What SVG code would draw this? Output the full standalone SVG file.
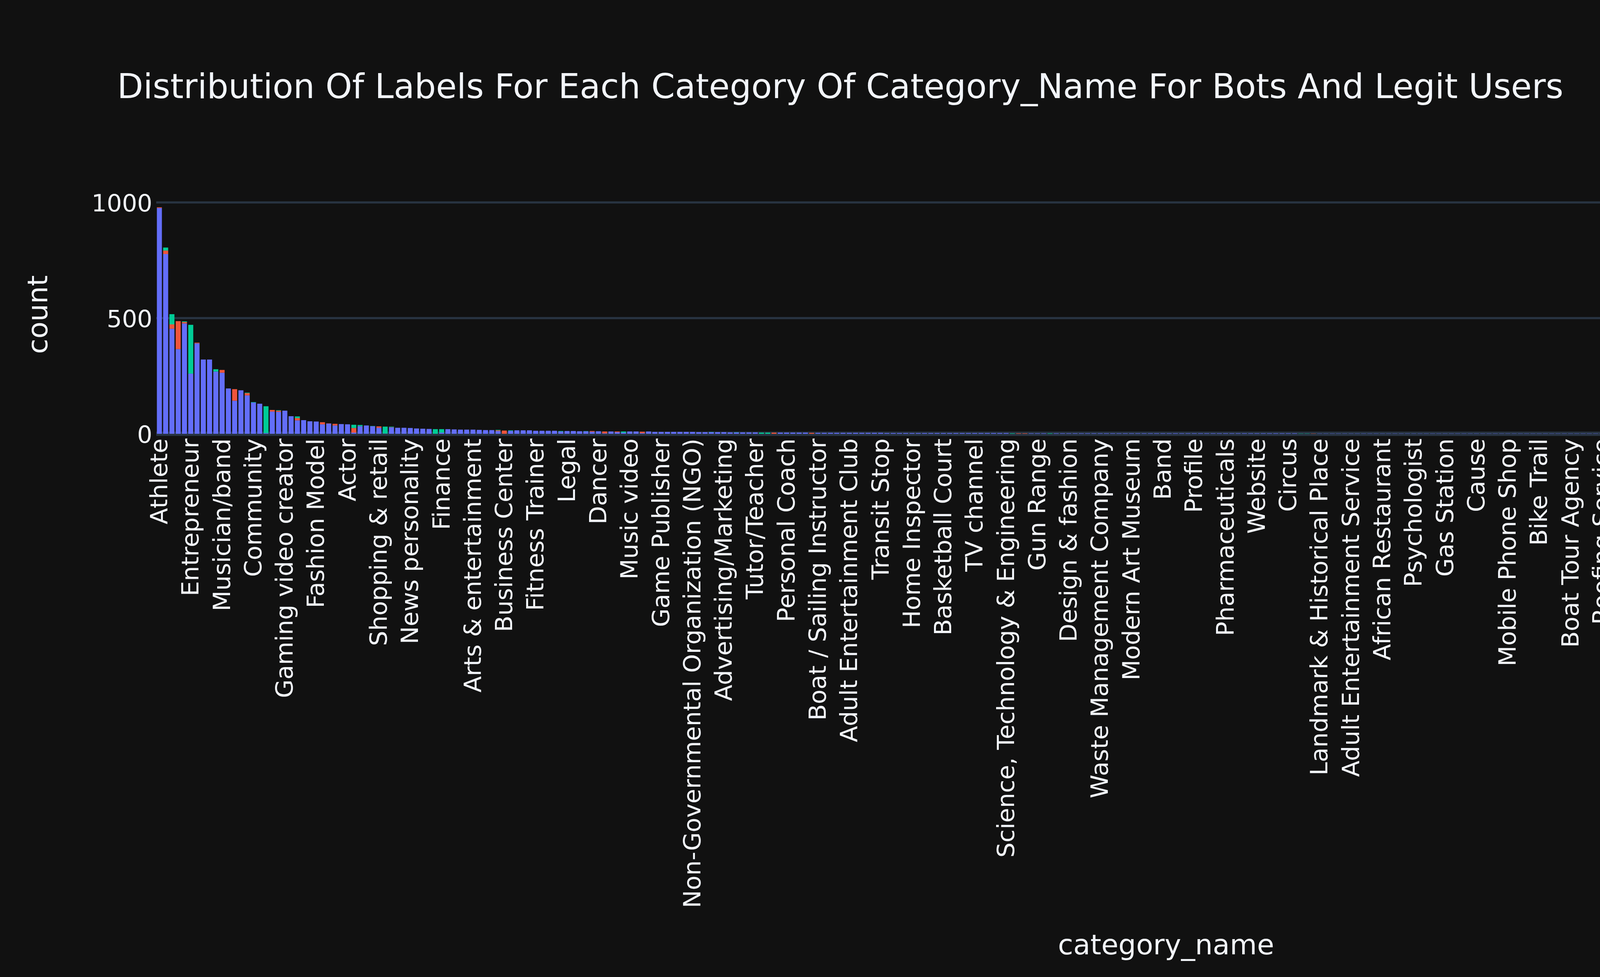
<svg xmlns="http://www.w3.org/2000/svg" width="6000" height="2500" viewBox="0 0 6000 2500">
<style>
text{font-family:"DejaVu Sans","Verdana","Liberation Sans",sans-serif;fill:#f2f5fa}
.tick{font-size:61.2px}
.a{fill:#636efa}.r{fill:#ef553b}.g{fill:#00cc96}
.grid{stroke:#283442;stroke-width:5.45}
</style>
<rect x="0" y="0" width="6000" height="2500" fill="#111111"/>
<g id="title"><text x="300" y="251" font-size="86.7">Distribution Of Labels For Each Category Of Category_Name For Bots And Legit Users</text></g>
<g id="gridlines">
<line class="grid" x1="400" y1="518" x2="5570" y2="518"/>
<line class="grid" x1="400" y1="814" x2="5570" y2="814"/>
<line x1="400" y1="1110" x2="5570" y2="1110" stroke="#283442" stroke-width="10.9"/>
</g>
<g id="yticks" class="tick" text-anchor="end">
<text x="390" y="540.5">1000</text>
<text x="390" y="836.5">500</text>
<text x="390" y="1132.5">0</text>
</g>
<g id="bars" transform="translate(401.606,1110) scale(16.056,-0.592)">
<g id="label0" class="a">
<rect x="0" width=".8" height="976"/><rect x="1" width=".8" height="777"/><rect x="2" width=".8" height="454"/><rect x="3" width=".8" height="366"/><rect x="4" width=".8" height="477"/><rect x="5" width=".8" height="260"/><rect x="6" width=".8" height="391"/><rect x="7" width=".8" height="321"/><rect x="8" width=".8" height="321"/><rect x="9" width=".8" height="269"/>
<rect x="10" width=".8" height="264"/><rect x="11" width=".8" height="196"/><rect x="12" width=".8" height="143"/><rect x="13" width=".8" height="188"/><rect x="14" width=".8" height="166"/><rect x="15" width=".8" height="135"/><rect x="16" width=".8" height="130"/><rect x="17" width=".8" height="3"/><rect x="18" width=".8" height="96"/><rect x="19" width=".8" height="95"/>
<rect x="20" width=".8" height="100"/><rect x="21" width=".8" height="76"/><rect x="22" width=".8" height="58"/><rect x="23" width=".8" height="59"/><rect x="24" width=".8" height="54"/><rect x="25" width=".8" height="53"/><rect x="26" width=".8" height="41"/><rect x="27" width=".8" height="44"/><rect x="28" width=".8" height="36"/><rect x="29" width=".8" height="42"/>
<rect x="30" width=".8" height="41"/><rect x="31" width=".8" height="5"/><rect x="32" width=".8" height="33"/><rect x="33" width=".8" height="36"/><rect x="34" width=".8" height="33"/><rect x="35" width=".8" height="26"/><rect x="36" width=".8" height="1"/><rect x="37" width=".8" height="28"/><rect x="38" width=".8" height="26"/><rect x="39" width=".8" height="26"/>
<rect x="40" width=".8" height="25"/><rect x="41" width=".8" height="23"/><rect x="42" width=".8" height="22"/><rect x="43" width=".8" height="21"/><rect x="45" width=".8" height="5"/><rect x="46" width=".8" height="20"/><rect x="47" width=".8" height="19"/><rect x="48" width=".8" height="18"/><rect x="49" width=".8" height="18"/>
<rect x="50" width=".8" height="18"/><rect x="51" width=".8" height="17"/><rect x="52" width=".8" height="16"/><rect x="53" width=".8" height="16"/><rect x="54" width=".8" height="12"/><rect x="56" width=".8" height="13"/><rect x="57" width=".8" height="15"/><rect x="58" width=".8" height="15"/><rect x="59" width=".8" height="15"/>
<rect x="60" width=".8" height="13"/><rect x="61" width=".8" height="13"/><rect x="62" width=".8" height="13"/><rect x="63" width=".8" height="13"/><rect x="64" width=".8" height="10"/><rect x="65" width=".8" height="12"/><rect x="66" width=".8" height="12"/><rect x="67" width=".8" height="11"/><rect x="68" width=".8" height="11"/><rect x="69" width=".8" height="9"/>
<rect x="70" width=".8" height="11"/><rect x="71" width=".8" height="2"/><rect x="72" width=".8" height="10"/><rect x="73" width=".8" height="7"/><rect x="74" width=".8" height="5"/><rect x="75" width=".8" height="10"/><rect x="76" width=".8" height="10"/><rect x="77" width=".8" height="3"/><rect x="78" width=".8" height="10"/><rect x="79" width=".8" height="8"/>
<rect x="80" width=".8" height="8"/><rect x="81" width=".8" height="8"/><rect x="82" width=".8" height="8"/><rect x="83" width=".8" height="8"/><rect x="84" width=".8" height="8"/><rect x="85" width=".8" height="8"/><rect x="86" width=".8" height="7"/><rect x="87" width=".8" height="7"/><rect x="88" width=".8" height="7"/><rect x="89" width=".8" height="7"/>
<rect x="90" width=".8" height="7"/><rect x="91" width=".8" height="6"/><rect x="92" width=".8" height="6"/><rect x="93" width=".8" height="6"/><rect x="94" width=".8" height="6"/><rect x="95" width=".8" height="6"/><rect x="99" width=".8" height="5"/>
<rect x="100" width=".8" height="5"/><rect x="101" width=".8" height="5"/><rect x="102" width=".8" height="5"/><rect x="103" width=".8" height="5"/><rect x="105" width=".8" height="4"/><rect x="106" width=".8" height="4"/><rect x="107" width=".8" height="4"/><rect x="108" width=".8" height="4"/><rect x="109" width=".8" height="4"/>
<rect x="110" width=".8" height="4"/><rect x="111" width=".8" height="4"/><rect x="112" width=".8" height="4"/><rect x="113" width=".8" height="4"/><rect x="114" width=".8" height="4"/><rect x="115" width=".8" height="4"/><rect x="116" width=".8" height="3"/><rect x="117" width=".8" height="3"/><rect x="118" width=".8" height="3"/><rect x="119" width=".8" height="3"/>
<rect x="120" width=".8" height="3"/><rect x="121" width=".8" height="3"/><rect x="122" width=".8" height="3"/><rect x="123" width=".8" height="3"/><rect x="124" width=".8" height="3"/><rect x="125" width=".8" height="3"/><rect x="126" width=".8" height="3"/><rect x="127" width=".8" height="3"/><rect x="128" width=".8" height="3"/><rect x="129" width=".8" height="3"/>
<rect x="130" width=".8" height="3"/><rect x="131" width=".8" height="3"/><rect x="132" width=".8" height="3"/><rect x="133" width=".8" height="3"/><rect x="134" width=".8" height="3"/><rect x="135" width=".8" height="3"/><rect x="139" width=".8" height="2"/>
<rect x="140" width=".8" height="2"/><rect x="141" width=".8" height="2"/><rect x="143" width=".8" height="2"/><rect x="144" width=".8" height="2"/><rect x="145" width=".8" height="2"/><rect x="146" width=".8" height="2"/><rect x="147" width=".8" height="2"/><rect x="148" width=".8" height="2"/><rect x="149" width=".8" height="2"/>
<rect x="150" width=".8" height="2"/><rect x="151" width=".8" height="2"/><rect x="152" width=".8" height="2"/><rect x="153" width=".8" height="2"/><rect x="154" width=".8" height="2"/><rect x="155" width=".8" height="2"/><rect x="156" width=".8" height="2"/><rect x="157" width=".8" height="2"/><rect x="158" width=".8" height="2"/><rect x="159" width=".8" height="2"/>
<rect x="160" width=".8" height="2"/><rect x="161" width=".8" height="2"/><rect x="162" width=".8" height="2"/><rect x="163" width=".8" height="2"/><rect x="164" width=".8" height="2"/><rect x="165" width=".8" height="2"/><rect x="166" width=".8" height="2"/><rect x="167" width=".8" height="2"/><rect x="168" width=".8" height="2"/><rect x="169" width=".8" height="2"/>
<rect x="170" width=".8" height="2"/><rect x="171" width=".8" height="2"/><rect x="172" width=".8" height="2"/><rect x="173" width=".8" height="2"/><rect x="174" width=".8" height="2"/><rect x="175" width=".8" height="2"/><rect x="176" width=".8" height="2"/><rect x="177" width=".8" height="2"/><rect x="178" width=".8" height="2"/><rect x="179" width=".8" height="2"/>
<rect x="180" width=".8" height="2"/><rect x="181" width=".8" height="2"/><rect x="185" width=".8" height="1"/><rect x="186" width=".8" height="1"/><rect x="187" width=".8" height="1"/><rect x="188" width=".8" height="1"/><rect x="189" width=".8" height="1"/>
<rect x="190" width=".8" height="1"/><rect x="191" width=".8" height="1"/><rect x="192" width=".8" height="1"/><rect x="193" width=".8" height="1"/><rect x="194" width=".8" height="1"/><rect x="195" width=".8" height="1"/><rect x="196" width=".8" height="1"/><rect x="197" width=".8" height="1"/><rect x="198" width=".8" height="1"/><rect x="199" width=".8" height="1"/>
<rect x="200" width=".8" height="1"/><rect x="201" width=".8" height="1"/><rect x="202" width=".8" height="1"/><rect x="203" width=".8" height="1"/><rect x="204" width=".8" height="1"/><rect x="205" width=".8" height="1"/><rect x="206" width=".8" height="1"/><rect x="207" width=".8" height="1"/><rect x="208" width=".8" height="1"/><rect x="209" width=".8" height="1"/>
<rect x="210" width=".8" height="1"/><rect x="211" width=".8" height="1"/><rect x="212" width=".8" height="1"/><rect x="213" width=".8" height="1"/><rect x="214" width=".8" height="1"/><rect x="215" width=".8" height="1"/><rect x="216" width=".8" height="1"/><rect x="217" width=".8" height="1"/><rect x="218" width=".8" height="1"/><rect x="219" width=".8" height="1"/>
<rect x="220" width=".8" height="1"/><rect x="221" width=".8" height="1"/><rect x="222" width=".8" height="1"/><rect x="223" width=".8" height="1"/><rect x="224" width=".8" height="1"/><rect x="225" width=".8" height="1"/><rect x="226" width=".8" height="1"/><rect x="227" width=".8" height="1"/><rect x="228" width=".8" height="1"/><rect x="229" width=".8" height="1"/>
<rect x="230" width=".8" height="1"/><rect x="231" width=".8" height="1"/><rect x="232" width=".8" height="1"/><rect x="233" width=".8" height="1"/><rect x="234" width=".8" height="1"/><rect x="235" width=".8" height="1"/><rect x="236" width=".8" height="1"/><rect x="237" width=".8" height="1"/><rect x="238" width=".8" height="1"/><rect x="239" width=".8" height="1"/>
<rect x="240" width=".8" height="1"/><rect x="241" width=".8" height="1"/><rect x="242" width=".8" height="1"/><rect x="243" width=".8" height="1"/><rect x="244" width=".8" height="1"/><rect x="245" width=".8" height="1"/><rect x="246" width=".8" height="1"/><rect x="247" width=".8" height="1"/><rect x="248" width=".8" height="1"/><rect x="249" width=".8" height="1"/>
<rect x="250" width=".8" height="1"/><rect x="251" width=".8" height="1"/><rect x="252" width=".8" height="1"/><rect x="253" width=".8" height="1"/><rect x="254" width=".8" height="1"/><rect x="255" width=".8" height="1"/><rect x="256" width=".8" height="1"/><rect x="257" width=".8" height="1"/><rect x="258" width=".8" height="1"/><rect x="259" width=".8" height="1"/>
<rect x="260" width=".8" height="1"/><rect x="261" width=".8" height="1"/><rect x="262" width=".8" height="1"/><rect x="263" width=".8" height="1"/><rect x="264" width=".8" height="1"/><rect x="265" width=".8" height="1"/><rect x="266" width=".8" height="1"/><rect x="267" width=".8" height="1"/><rect x="268" width=".8" height="1"/><rect x="269" width=".8" height="1"/>
<rect x="270" width=".8" height="1"/><rect x="271" width=".8" height="1"/><rect x="272" width=".8" height="1"/><rect x="273" width=".8" height="1"/><rect x="274" width=".8" height="1"/><rect x="275" width=".8" height="1"/><rect x="276" width=".8" height="1"/><rect x="277" width=".8" height="1"/><rect x="278" width=".8" height="1"/><rect x="279" width=".8" height="1"/>
<rect x="280" width=".8" height="1"/><rect x="281" width=".8" height="1"/><rect x="282" width=".8" height="1"/><rect x="283" width=".8" height="1"/><rect x="284" width=".8" height="1"/><rect x="285" width=".8" height="1"/><rect x="286" width=".8" height="1"/><rect x="287" width=".8" height="1"/><rect x="288" width=".8" height="1"/><rect x="289" width=".8" height="1"/>
<rect x="290" width=".8" height="1"/><rect x="291" width=".8" height="1"/><rect x="292" width=".8" height="1"/><rect x="293" width=".8" height="1"/><rect x="294" width=".8" height="1"/><rect x="295" width=".8" height="1"/><rect x="296" width=".8" height="1"/><rect x="297" width=".8" height="1"/><rect x="298" width=".8" height="1"/><rect x="299" width=".8" height="1"/>
<rect x="300" width=".8" height="1"/><rect x="301" width=".8" height="1"/><rect x="302" width=".8" height="1"/><rect x="303" width=".8" height="1"/><rect x="304" width=".8" height="1"/><rect x="305" width=".8" height="1"/><rect x="306" width=".8" height="1"/><rect x="307" width=".8" height="1"/><rect x="308" width=".8" height="1"/><rect x="309" width=".8" height="1"/>
<rect x="310" width=".8" height="1"/><rect x="311" width=".8" height="1"/><rect x="312" width=".8" height="1"/><rect x="313" width=".8" height="1"/><rect x="314" width=".8" height="1"/><rect x="315" width=".8" height="1"/><rect x="316" width=".8" height="1"/><rect x="317" width=".8" height="1"/><rect x="318" width=".8" height="1"/><rect x="319" width=".8" height="1"/>
<rect x="320" width=".8" height="1"/><rect x="321" width=".8" height="1"/>
</g>
<g id="label1" class="r">
<rect x="0" y="976" width=".8" height="3"/><rect x="1" y="777" width=".8" height="15"/><rect x="2" y="454" width=".8" height="19"/><rect x="3" y="366" width=".8" height="121"/><rect x="4" y="477" width=".8" height="6"/><rect x="6" y="391" width=".8" height="3"/><rect x="10" y="264" width=".8" height="12"/><rect x="12" y="143" width=".8" height="50"/><rect x="14" y="166" width=".8" height="10"/><rect x="18" y="96" width=".8" height="7"/>
<rect x="19" y="95" width=".8" height="5"/><rect x="22" y="58" width=".8" height="10"/><rect x="26" y="41" width=".8" height="9"/><rect x="27" y="44" width=".8" height="1"/><rect x="28" y="36" width=".8" height="7"/><rect x="31" y="5" width=".8" height="20"/><rect x="35" y="26" width=".8" height="6"/><rect x="37" y="28" width=".8" height="1"/><rect x="54" y="12" width=".8" height="3"/><rect x="55" y="0" width=".8" height="14"/>
<rect x="69" y="9" width=".8" height="3"/><rect x="71" y="2" width=".8" height="8"/><rect x="73" y="7" width=".8" height="3"/><rect x="77" y="3" width=".8" height="6"/><rect x="98" y="0" width=".8" height="5"/><rect x="104" y="0" width=".8" height="4"/><rect x="137" y="0" width=".8" height="2"/><rect x="138" y="0" width=".8" height="2"/><rect x="184" y="0" width=".8" height="1"/>
</g>
<g id="label3" class="g">
<rect x="1" y="792" width=".8" height="13"/><rect x="2" y="473" width=".8" height="44"/><rect x="4" y="483" width=".8" height="3"/><rect x="5" y="260" width=".8" height="211"/><rect x="9" y="269" width=".8" height="10"/><rect x="14" y="176" width=".8" height="2"/><rect x="15" y="135" width=".8" height="2"/><rect x="17" y="3" width=".8" height="116"/><rect x="19" y="100" width=".8" height="2"/><rect x="22" y="68" width=".8" height="7"/>
<rect x="31" y="25" width=".8" height="14"/><rect x="32" y="33" width=".8" height="5"/><rect x="34" y="33" width=".8" height="1"/><rect x="36" y="1" width=".8" height="30"/><rect x="37" y="29" width=".8" height="2"/><rect x="44" y="0" width=".8" height="20"/><rect x="45" y="5" width=".8" height="15"/><rect x="54" y="15" width=".8" height="2"/><rect x="56" y="13" width=".8" height="2"/><rect x="64" y="10" width=".8" height="2"/>
<rect x="68" y="11" width=".8" height="1"/><rect x="74" y="5" width=".8" height="5"/><rect x="88" y="7" width=".8" height="1"/><rect x="92" y="6" width=".8" height="1"/><rect x="96" y="0" width=".8" height="5"/><rect x="97" y="0" width=".8" height="5"/><rect x="136" y="0" width=".8" height="2"/><rect x="142" y="0" width=".8" height="2"/><rect x="182" y="0" width=".8" height="1"/><rect x="183" y="0" width=".8" height="1"/>
</g>
</g>
<g id="xticks" class="tick" text-anchor="end" transform="translate(0,1122) rotate(-90)">
<text x="0" y="428.0">Athlete</text>
<text x="0" y="508.3">Entrepreneur</text>
<text x="0" y="588.6">Musician/band</text>
<text x="0" y="668.9">Community</text>
<text x="0" y="749.2">Gaming video creator</text>
<text x="0" y="829.4">Fashion Model</text>
<text x="0" y="909.7">Actor</text>
<text x="0" y="990.0">Shopping &amp; retail</text>
<text x="0" y="1070.3">News personality</text>
<text x="0" y="1150.6">Finance</text>
<text x="0" y="1230.8">Arts &amp; entertainment</text>
<text x="0" y="1311.1">Business Center</text>
<text x="0" y="1391.4">Fitness Trainer</text>
<text x="0" y="1471.7">Legal</text>
<text x="0" y="1552.0">Dancer</text>
<text x="0" y="1632.2">Music video</text>
<text x="0" y="1712.5">Game Publisher</text>
<text x="0" y="1792.8">Non-Governmental Organization (NGO)</text>
<text x="0" y="1873.1">Advertising/Marketing</text>
<text x="0" y="1953.3">Tutor/Teacher</text>
<text x="0" y="2033.6">Personal Coach</text>
<text x="0" y="2113.9">Boat / Sailing Instructor</text>
<text x="0" y="2194.2">Adult Entertainment Club</text>
<text x="0" y="2274.5">Transit Stop</text>
<text x="0" y="2354.7">Home Inspector</text>
<text x="0" y="2435.0">Basketball Court</text>
<text x="0" y="2515.3">TV channel</text>
<text x="0" y="2595.6">Science, Technology &amp; Engineering</text>
<text x="0" y="2675.9">Gun Range</text>
<text x="0" y="2756.1">Design &amp; fashion</text>
<text x="0" y="2836.4">Waste Management Company</text>
<text x="0" y="2916.7">Modern Art Museum</text>
<text x="0" y="2997.0">Band</text>
<text x="0" y="3077.3">Profile</text>
<text x="0" y="3157.5">Pharmaceuticals</text>
<text x="0" y="3237.8">Website</text>
<text x="0" y="3318.1">Circus</text>
<text x="0" y="3398.4">Landmark &amp; Historical Place</text>
<text x="0" y="3478.7">Adult Entertainment Service</text>
<text x="0" y="3558.9">African Restaurant</text>
<text x="0" y="3639.2">Psychologist</text>
<text x="0" y="3719.5">Gas Station</text>
<text x="0" y="3799.8">Cause</text>
<text x="0" y="3880.1">Mobile Phone Shop</text>
<text x="0" y="3960.3">Bike Trail</text>
<text x="0" y="4040.6">Boat Tour Agency</text>
<text x="0" y="4120.9">Roofing Service</text>
<text x="0" y="4201.2">Golf Course &amp; Country Club</text>
<text x="0" y="4281.5">Retirement &amp; Assisted Living Facility</text>
<text x="0" y="4361.7">Damage Restoration Service</text>
<text x="0" y="4442.0">Political Party</text>
<text x="0" y="4522.3">Public Service</text>
<text x="0" y="4602.6">Asian Restaurant</text>
<text x="0" y="4682.9">Animal Shelter</text>
<text x="0" y="4763.1">Barber</text>
<text x="0" y="4843.4">Haunted House</text>
<text x="0" y="4923.7">Musical Instrument Store</text>
<text x="0" y="5004.0">Publisher</text>
<text x="0" y="5084.3">Chemical Company</text>
<text x="0" y="5164.5">Private Members Club</text>
<text x="0" y="5244.8">Taxidermist</text>
<text x="0" y="5325.1">Contractor</text>
<text x="0" y="5405.4">Massage Therapist</text>
<text x="0" y="5485.7">Sporting Goods Store</text>
<text x="0" y="5565.9">Obstetrician-Gynecologist (OBGYN)</text>
</g>
<g id="axis-titles">
<text x="2985" y="2442" font-size="71.4" text-anchor="middle">category_name</text>
<text transform="translate(121,805) rotate(-90)" font-size="71.4" text-anchor="middle">count</text>
</g>
<g id="legend">
<text x="5681" y="590" font-size="71">label</text>
<g id="legend-0"><rect x="5743" y="633" width="60" height="60" class="a"/><text class="tick" x="5872" y="686">0</text></g>
<g id="legend-1"><rect x="5743" y="728" width="60" height="60" class="r"/><text class="tick" x="5872" y="781">1</text></g>
<g id="legend-3"><rect x="5743" y="823" width="60" height="60" class="g"/><text class="tick" x="5872" y="876">3</text></g>
</g>
</svg>
